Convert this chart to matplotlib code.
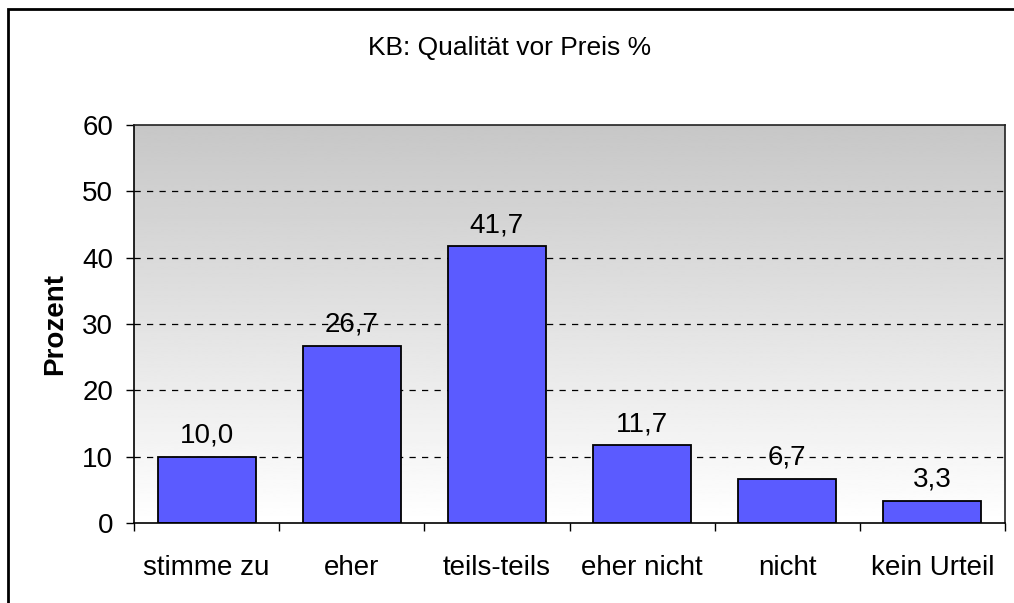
import matplotlib
matplotlib.use("Agg")
import matplotlib.pyplot as plt
import numpy as np
from matplotlib.patches import Rectangle

plt.rcParams.update({
    "font.family": ["Liberation Sans", "DejaVu Sans"],
    "font.size": 20,
})

categories = ["stimme zu", "eher", "teils-teils", "eher nicht", "nicht", "kein Urteil"]
values = [10.0, 26.7, 41.7, 11.7, 6.7, 3.3]
title = "KB: Qualität vor Preis %"
ylabel = "Prozent"
yticks = [0, 10, 20, 30, 40, 50, 60]

fig = plt.figure(figsize=(10.14, 6.03), dpi=100)
ax = fig.add_axes([134 / 1014, 1 - 523 / 603, 871 / 1014, 398 / 603])

# outer chart frame
fig.patches.append(Rectangle((8 / 1014, -0.1), 1.2, 1 - 9 / 603 + 0.1,
                             transform=fig.transFigure, fill=False,
                             edgecolor="black", linewidth=2))

n = len(categories)
x = np.arange(n)
ax.set_xlim(-0.5, n - 0.5)

# grey (top) to white (bottom) gradient background
grad = np.linspace(0.78, 1.0, 256).reshape(-1, 1)
ax.imshow(grad, cmap="gray", vmin=0, vmax=1, aspect="auto", origin="upper",
          extent=(-0.5, n - 0.5, 0, 60), zorder=0, interpolation="bilinear")
ax.set_ylim(0, 60)

for y in yticks[1:-1]:
    ax.axhline(y, color="black", linestyle=(0, (5, 5)), linewidth=0.9, zorder=1)

bars = ax.bar(x, values, width=0.675, color="#5B5BFF", edgecolor="black",
              linewidth=1.3, zorder=2)

for xi, v in zip(x, values):
    ax.annotate(f"{v:.1f}".replace(".", ","), (xi, v), xytext=(0, 6),
                textcoords="offset points", ha="center", va="bottom", fontsize=20)

ax.set_yticks(yticks)
ax.set_yticklabels([str(t) for t in yticks], fontsize=20)
ax.tick_params(axis="y", direction="out", length=6, width=1, pad=9)

ax.set_xticks(np.arange(n + 1) - 0.5)
ax.set_xticklabels([])
ax.tick_params(axis="x", which="major", direction="out", length=6, width=1)
ax.set_xticks(x, minor=True)
ax.set_xticklabels(categories, minor=True, fontsize=20)
ax.tick_params(axis="x", which="minor", length=0, pad=23)

for side in ["top", "right"]:
    ax.spines[side].set_color("#222222")
    ax.spines[side].set_linewidth(1.2)
for side in ["left", "bottom"]:
    ax.spines[side].set_linewidth(1.2)

ax.set_ylabel(ylabel, fontsize=20, fontweight="bold", labelpad=10)
fig.text(0.503, 1 - 48 / 603, title, ha="center", va="center", fontsize=19)

fig.savefig("out.png", dpi=100)
